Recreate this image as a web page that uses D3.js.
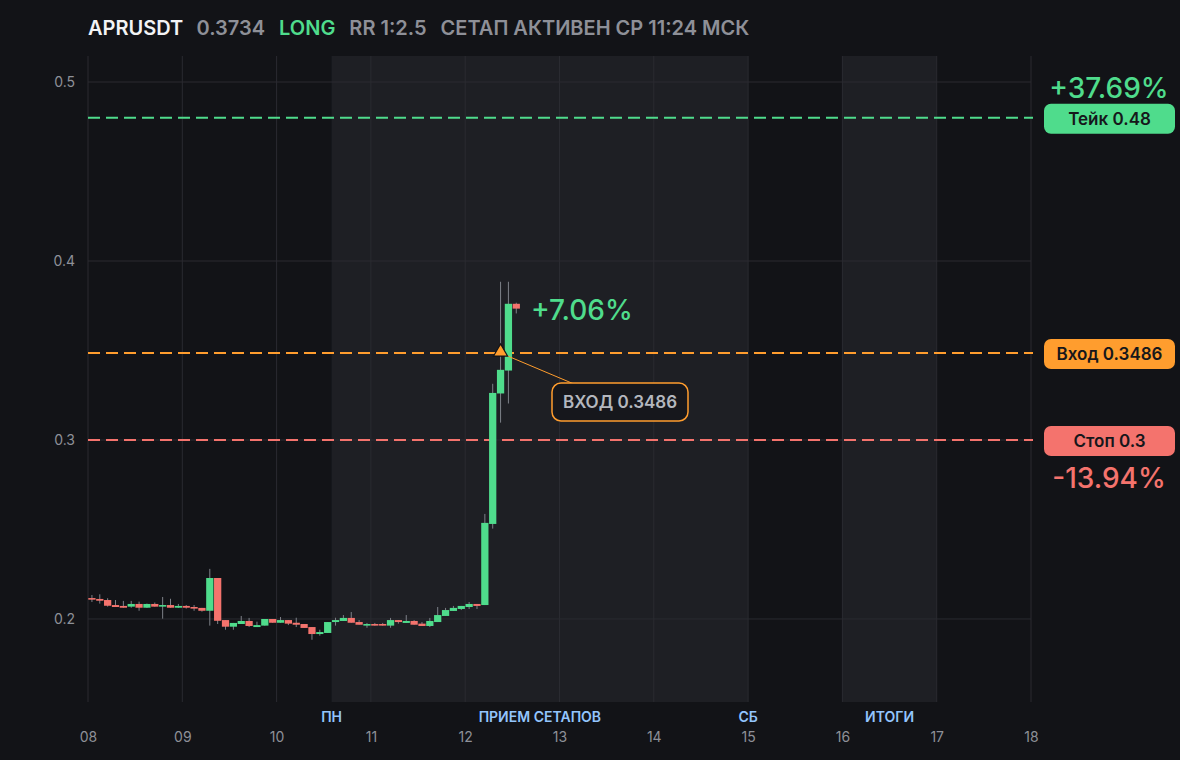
<!DOCTYPE html>
<html>
<head>
<meta charset="utf-8">
<script src="https://cdn.jsdelivr.net/npm/d3@7"></script>
<style>
  html, body { margin: 0; padding: 0; background: #121317; }
  svg { display: block; font-family: Inter, "Noto Sans", sans-serif; }
</style>
</head>
<body>
<script>
var w = 1180;
var h = 760;

// chart box
var plotLeft = 88, plotRight = 1031, plotTop = 56, plotBottom = 702;

var symbol = "APRUSDT";
var lastPrice = "0.3734";
var side = "LONG";
var rr = "RR 1:2.5";
var setupStatus = "СЕТАП АКТИВЕН СР 11:24 МСК";

// 2h candles from Nov 8 00:00
var opens  = [0.2117,0.2112,0.2106,0.2078,0.2073,0.2069,0.2084,0.2063,0.2084,0.2069,0.2078,0.2063,0.2073,0.2067,0.2062,0.2046,0.2229,0.1994,0.1957,0.1972,0.1989,0.1955,0.1963,0.2000,0.1979,0.1994,0.1979,0.1972,0.1955,0.1916,0.1922,0.1983,0.1989,0.2006,0.1983,0.1963,0.1972,0.1972,0.1963,0.1994,0.1978,0.1989,0.1974,0.1961,0.1983,0.2017,0.2045,0.2056,0.2067,0.2084,0.2078,0.2531,0.3260,0.3388,0.3761];
var highs  = [0.2134,0.2138,0.2116,0.2106,0.2101,0.2101,0.2097,0.2086,0.2092,0.2123,0.2113,0.2084,0.2078,0.2078,0.2062,0.2280,0.2229,0.1994,0.1978,0.2017,0.2006,0.1985,0.2000,0.2000,0.2011,0.1994,0.2007,0.1972,0.1955,0.1940,0.1983,0.2007,0.2022,0.2039,0.1994,0.1978,0.1978,0.1978,0.2006,0.1994,0.2022,0.1994,0.1983,0.2006,0.2067,0.2062,0.2073,0.2073,0.2095,0.2084,0.2587,0.3314,0.3884,0.3884,0.3767];
var lows   = [0.2095,0.2086,0.2069,0.2067,0.2063,0.2063,0.2046,0.2062,0.2069,0.2002,0.2063,0.2062,0.2058,0.2046,0.2041,0.1963,0.1972,0.1940,0.1940,0.1972,0.1955,0.1955,0.1963,0.1979,0.1979,0.1966,0.1955,0.1950,0.1884,0.1907,0.1922,0.1963,0.1989,0.1979,0.1968,0.1951,0.1963,0.1963,0.1951,0.1974,0.1978,0.1968,0.1961,0.1955,0.1983,0.2017,0.2045,0.2050,0.2056,0.2056,0.2078,0.2505,0.3097,0.3204,0.3707];
var closes = [0.2108,0.2102,0.2074,0.2067,0.2063,0.2084,0.2063,0.2084,0.2069,0.2078,0.2063,0.2073,0.2063,0.2058,0.2046,0.2229,0.1990,0.1957,0.1978,0.1989,0.1961,0.1966,0.2000,0.1979,0.1994,0.1974,0.1968,0.1950,0.1916,0.1927,0.1983,0.1994,0.2006,0.1979,0.1968,0.1972,0.1963,0.1963,0.1994,0.1983,0.1989,0.1968,0.1961,0.1989,0.2022,0.2050,0.2062,0.2073,0.2084,0.2073,0.2537,0.3263,0.3392,0.3761,0.3734];

var yTicks = [0.2, 0.3, 0.4, 0.5];
var dayTicks = [8, 9, 10, 11, 12, 13, 14, 15, 16, 17, 18];

var takePrice = 0.48, entryPrice = 0.3486, stopPrice = 0.3;
var takePct = "+37.69%", stopPct = "-13.94%", livePct = "+7.06%";
var entryCandle = 52;

// shaded periods: [start day, start hour, end day, end hour]
var zones = [[10, 14, 15, 0], [16, 0, 17, 0]];
var zoneLabels = [["ПН", 10, 14], ["ПРИЕМ СЕТАПОВ", 12, 19], ["СБ", 15, 0], ["ИТОГИ", 16, 12]];

var green = "#4fdc8c", red = "#f4736d", orange = "#ff9d2e";

function day(d, hr) { return new Date(2025, 10, d, hr || 0); }

var xScale = d3.scaleTime()
    .domain([day(8), day(18)])
    .range([plotLeft, plotRight]);

var yScale = d3.scaleLinear()
    .domain([0.15363, 0.51453])
    .range([plotBottom, plotTop]);

var svg = d3.select("body")
    .append("svg")
    .attr("width", w)
    .attr("height", h);

svg.append("rect").attr("width", w).attr("height", h).attr("fill", "#121317");

// shaded zones
svg.selectAll("rect.zone")
    .data(zones)
    .enter()
    .append("rect")
    .attr("class", "zone")
    .attr("x", function (d) { return xScale(day(d[0], d[1])); })
    .attr("width", function (d) { return xScale(day(d[2], d[3])) - xScale(day(d[0], d[1])); })
    .attr("y", plotTop)
    .attr("height", plotBottom - plotTop)
    .attr("fill", "#1e1f24");

//grid
svg.selectAll("line.vgrid")
    .data(dayTicks)
    .enter()
    .append("line")
    .attr("class", "vgrid")
    .attr("x1", function (d) { return xScale(day(d)); })
    .attr("x2", function (d) { return xScale(day(d)); })
    .attr("y1", plotTop)
    .attr("y2", plotBottom)
    .attr("stroke", "#2a2b31")
    .attr("stroke-width", 1);

svg.selectAll("line.hgrid")
    .data(yTicks)
    .enter()
    .append("line")
    .attr("class", "hgrid")
    .attr("x1", plotLeft)
    .attr("x2", plotRight)
    .attr("y1", function (d) { return yScale(d); })
    .attr("y2", function (d) { return yScale(d); })
    .attr("stroke", "#2a2b31")
    .attr("stroke-width", 1);

// axes (labels only)
var yaxis = d3.axisLeft(yScale).tickValues(yTicks).tickSize(0).tickPadding(13)
    .tickFormat(d3.format(".1f"));
var gy = svg.append("g").attr("transform", "translate(" + plotLeft + ",0)").call(yaxis);
gy.select(".domain").remove();
gy.selectAll("text").attr("fill", "#8e9098").attr("font-size", 14).attr("font-family", "Inter");

var xaxis = d3.axisBottom(xScale)
    .tickValues(dayTicks.map(function (d) { return day(d); }))
    .tickSize(0).tickPadding(30)
    .tickFormat(d3.timeFormat("%d"));
var gx = svg.append("g").attr("transform", "translate(0," + plotBottom + ")").call(xaxis);
gx.select(".domain").remove();
gx.selectAll("text").attr("fill", "#8e9098").attr("font-size", 14).attr("font-family", "Inter");

svg.selectAll("text.zonelabel")
    .data(zoneLabels)
    .enter()
    .append("text")
    .attr("class", "zonelabel")
    .attr("x", function (d) { return xScale(day(d[1], d[2])); })
    .attr("y", 722)
    .attr("text-anchor", "middle")
    .attr("fill", "#93c5fd")
    .attr("font-size", 14)
    .attr("font-weight", 600)
    .text(function (d) { return d[0]; });

// level lines
var levels = [[takePrice, green], [entryPrice, orange], [stopPrice, red]];
svg.selectAll("line.level")
    .data(levels)
    .enter()
    .append("line")
    .attr("class", "level")
    .attr("x1", plotLeft)
    .attr("x2", plotRight + 2)
    .attr("y1", function (d) { return yScale(d[0]); })
    .attr("y2", function (d) { return yScale(d[0]); })
    .attr("stroke", function (d) { return d[1]; })
    .attr("stroke-width", 2)
    .attr("stroke-dasharray", "12,6");

// candles
var candles = opens.map(function (o, i) {
    return { t: new Date(day(8).getTime() + i * 7200000), o: o, h: highs[i], l: lows[i], c: closes[i] };
});
var slot = xScale(new Date(day(8).getTime() + 7200000)) - xScale(day(8));

svg.selectAll("line.wick")
    .data(candles)
    .enter()
    .append("line")
    .attr("class", "wick")
    .attr("x1", function (d) { return xScale(d.t) + slot / 2; })
    .attr("x2", function (d) { return xScale(d.t) + slot / 2; })
    .attr("y1", function (d) { return yScale(d.h); })
    .attr("y2", function (d) { return yScale(d.l); })
    .attr("stroke", "#7d8088")
    .attr("stroke-width", 1);

svg.selectAll("rect.body")
    .data(candles)
    .enter()
    .append("rect")
    .attr("class", "body")
    .attr("x", function (d) { return xScale(d.t) + 0.3; })
    .attr("width", slot - 0.6)
    .attr("y", function (d) { return yScale(Math.max(d.o, d.c)); })
    .attr("height", function (d) { return Math.max(1.5, Math.abs(yScale(d.o) - yScale(d.c))); })
    .attr("fill", function (d) { return d.c >= d.o ? green : red; });

// entry marker + callout
var ex = xScale(candles[entryCandle].t) + slot / 2;
var ey = yScale(entryPrice);
svg.append("line")
    .attr("x1", ex).attr("y1", ey)
    .attr("x2", 574).attr("y2", 384)
    .attr("stroke", orange).attr("stroke-width", 1);
svg.append("path")
    .attr("d", d3.symbol().type(d3.symbolTriangle).size(85)())
    .attr("transform", "translate(" + ex + "," + (ey - 1) + ")")
    .attr("fill", orange)
    .attr("stroke", "#121317")
    .attr("stroke-width", 1.2);

svg.append("rect")
    .attr("x", 552).attr("y", 383).attr("width", 136).attr("height", 38)
    .attr("rx", 9)
    .attr("fill", "#16171c")
    .attr("stroke", orange).attr("stroke-width", 1.5);
svg.append("text")
    .attr("x", 620).attr("y", 408)
    .attr("text-anchor", "middle")
    .attr("fill", "#b4b7be")
    .attr("font-size", 17).attr("font-weight", 600)
    .text("ВХОД " + entryPrice);

svg.append("text")
    .attr("x", 531).attr("y", yScale(closes[closes.length - 1]) + 11)
    .attr("fill", green)
    .attr("font-size", 28).attr("font-weight", 500)
    .text(livePct);

// right badges
var badges = [["Тейк " + takePrice, takePrice, green], ["Вход " + entryPrice, entryPrice, orange], ["Стоп " + stopPrice, stopPrice, red]];
var bg = svg.selectAll("g.badge")
    .data(badges)
    .enter()
    .append("g")
    .attr("class", "badge")
    .attr("transform", function (d) { return "translate(1044," + (yScale(d[1]) - 14) + ")"; });
bg.append("rect")
    .attr("width", 131).attr("height", 30).attr("rx", 7)
    .attr("fill", function (d) { return d[2]; });
bg.append("text")
    .attr("x", 65.5).attr("y", 21)
    .attr("text-anchor", "middle")
    .attr("fill", "#16171b")
    .attr("font-size", 17).attr("font-weight", 600)
    .text(function (d) { return d[0]; });

svg.append("text")
    .attr("x", 1109).attr("y", yScale(takePrice) - 20)
    .attr("text-anchor", "middle")
    .attr("fill", green).attr("font-size", 28).attr("font-weight", 500)
    .text(takePct);
svg.append("text")
    .attr("x", 1109).attr("y", yScale(stopPrice) + 48)
    .attr("text-anchor", "middle")
    .attr("fill", red).attr("font-size", 28).attr("font-weight", 500)
    .text(stopPct);

// header
var header = svg.append("text").attr("x", 88).attr("y", 35)
    .attr("font-size", 20).attr("font-weight", 600);
header.append("tspan").attr("fill", "#f2f3f5").text(symbol);
header.append("tspan").attr("dx", 14).attr("fill", "#8e9098").text(lastPrice);
header.append("tspan").attr("dx", 14).attr("fill", green).text(side);
header.append("tspan").attr("dx", 14).attr("fill", "#8e9098").text(rr);
header.append("tspan").attr("dx", 14).attr("fill", "#8e9098").text(setupStatus);
</script>
</body>
</html>
